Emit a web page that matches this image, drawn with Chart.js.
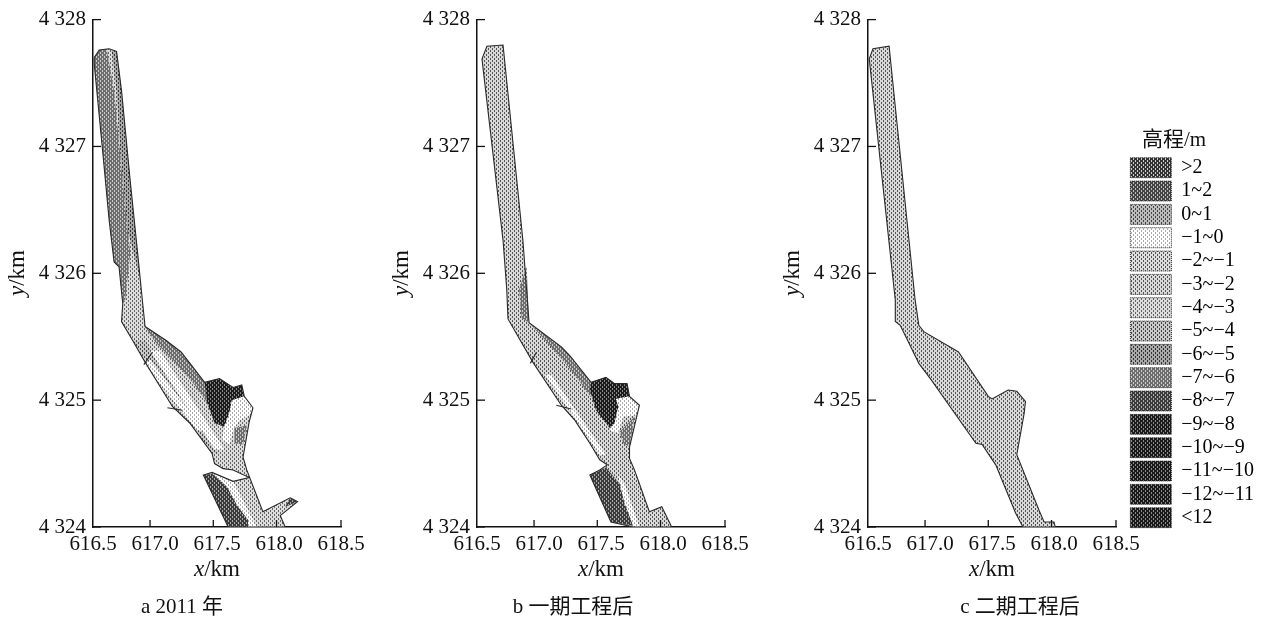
<!DOCTYPE html>
<html>
<head>
<meta charset="utf-8">
<script src="https://cdn.jsdelivr.net/npm/chart.js@4"></script>
<style>
  html, body { margin: 0; background: #fff; overflow: hidden; }
  canvas { position: absolute; top: 0; }
</style>
</head>
<body>
<canvas id="painelA" width="370" height="623" style="left:8px"></canvas>
<canvas id="painelB" width="370" height="623" style="left:392px"></canvas>
<canvas id="painelC" width="370" height="623" style="left:783px"></canvas>
<canvas id="legenda" width="146" height="623" style="left:1127px"></canvas>
<script>
const xTicks = [616.5, 617.0, 617.5, 618.0, 618.5];
const yTicks = [4324, 4325, 4326, 4327, 4328];
// the tick marks in the figure do not sit under their labels
const xTickMarks = [616.96, 617.47, 617.98, 618.5];

const legendLabels = [">2", "1~2", "0~1", "−1~0", "−2~−1", "−3~−2", "−4~−3", "−5~−4", "−6~−5",
  "−7~−6", "−8~−7", "−9~−8", "−10~−9", "−11~−10", "−12~−11", "<12"];
const legendBase = ["#333333", "#444444", "#bbbbbb", "#ffffff", "#dcdcdc", "#d8d8d8", "#dcdcdc", "#c8c8c8",
  "#a8a8a8", "#6e6e6e", "#3c3c3c", "#1c1c1c", "#1a1a1a", "#1a1a1a", "#1a1a1a", "#1a1a1a"];
const legendDot = ["#cccccc", "#bbbbbb", "#444444", "#aaaaaa", "#555555", "#555555", "#666666", "#444444",
  "#333333", "#cccccc", "#aaaaaa", "#888888", "#888888", "#888888", "#888888", "#888888"];

// panel a, elevation zones in km
const aOutline = [[616.51,4327.70],[616.55,4327.76],[616.63,4327.77],[616.69,4327.75],[616.73,4327.44],[616.80,4326.73],
  [616.86,4326.16],[616.90,4325.77],[616.92,4325.58],[617.09,4325.47],[617.21,4325.38],[617.29,4325.28],[617.40,4325.14],
  [617.52,4325.17],[617.63,4325.10],[617.70,4325.12],[617.72,4325.03],[617.79,4324.94],[617.76,4324.83],[617.71,4324.55],
  [617.74,4324.45],[617.87,4324.12],[618.09,4324.23],[618.15,4324.20],[618.01,4324.09],[618.05,4324],[617.59,4324],
  [617.39,4324.41],[617.46,4324.43],[617.63,4324.36],[617.76,4324.39],[617.63,4324.45],[617.55,4324.46],[617.48,4324.50],
  [617.46,4324.58],[617.28,4324.82],[617.14,4324.95],[616.92,4325.30],[616.82,4325.47],[616.73,4325.62],[616.74,4325.76],
  [616.71,4326.05],[616.67,4326.09],[616.63,4326.42],[616.58,4326.94],[616.51,4327.65],[616.51,4327.70]];
const aChannelLeft = [[616.51,4327.70],[616.55,4327.76],[616.61,4327.77],[616.67,4327.44],[616.74,4326.73],[616.80,4326.16],
  [616.76,4325.79],[616.74,4325.76],[616.71,4326.05],[616.67,4326.09],[616.63,4326.42],[616.58,4326.94],[616.51,4327.65]];
const aChannelRight = [[616.65,4327.76],[616.69,4327.75],[616.73,4327.44],[616.80,4326.73],[616.86,4326.16],[616.88,4325.95],
  [616.78,4326.34],[616.72,4326.97],[616.69,4327.44]];
const aBand = [[616.92,4325.58],[617.09,4325.47],[617.21,4325.38],[617.29,4325.28],[617.40,4325.14],[617.42,4324.98],
  [617.32,4325.12],[617.16,4325.30],[617.00,4325.46]];
const aLeftEdge = [[616.82,4325.47],[617.28,4324.82],[617.46,4324.58],[617.52,4324.58],[617.34,4324.84],[616.92,4325.47]];
const aStrip = [[616.96,4325.39],[617.04,4325.39],[617.56,4324.61],[617.48,4324.61]];
const aStripLeft = [[616.92,4325.28],[616.96,4325.32],[617.40,4324.76],[617.34,4324.76]];
const aPool = [[617.40,4325.14],[617.52,4325.17],[617.63,4325.10],[617.70,4325.12],[617.72,4325.03],[617.62,4325.00],
  [617.60,4324.90],[617.56,4324.79],[617.48,4324.82],[617.42,4324.98]];
const aRing = [[617.62,4325.00],[617.72,4325.03],[617.79,4324.94],[617.76,4324.88],[617.68,4324.84],[617.63,4324.76],
  [617.60,4324.65],[617.54,4324.69],[617.56,4324.79],[617.60,4324.90]];
const aSmallPool = [[617.64,4324.78],[617.74,4324.80],[617.71,4324.65],[617.64,4324.66]];
const aLowerDark = [[617.39,4324.41],[617.46,4324.42],[617.58,4324.32],[617.67,4324.16],[617.75,4324.06],[617.75,4324],[617.59,4324]];
const aLowerWhite = [[617.46,4324.43],[617.63,4324.36],[617.82,4324],[617.75,4324],[617.75,4324.06],[617.67,4324.16],[617.58,4324.32]];
const aBranchTip = [[618.05,4324.16],[618.09,4324.23],[618.15,4324.20]];
const aSpurLower = [[617.10,4324.94],[617.22,4324.92]];
const aSpurUpper = [[616.91,4325.28],[616.98,4325.38]];

// panel b
const bOutline = [[616.54,4327.69],[616.58,4327.79],[616.71,4327.80],[616.87,4326.26],[616.92,4325.61],[617.18,4325.42],
  [617.25,4325.35],[617.42,4325.14],[617.54,4325.18],[617.61,4325.13],[617.71,4325.13],[617.73,4325.03],[617.81,4324.96],
  [617.73,4324.63],[617.73,4324.54],[617.77,4324.45],[617.89,4324.12],[617.99,4324.16],[618.07,4324],[617.76,4324],
  [617.58,4324.04],[617.41,4324.41],[617.49,4324.45],[617.55,4324.49],[617.49,4324.53],[617.41,4324.66],[617.29,4324.84],
  [617.18,4324.96],[616.95,4325.30],[616.75,4325.64],[616.74,4325.87],[616.71,4326.26],[616.54,4327.69]];
const bChannelPatch = [[616.90,4326.06],[616.92,4325.61],[616.86,4325.65],[616.84,4325.87]];
const bBand = [[616.92,4325.61],[617.18,4325.42],[617.25,4325.35],[617.42,4325.14],[617.42,4325.02],[617.29,4325.20],[617.09,4325.43]];
const bStrip = [[617.05,4325.20],[617.10,4325.20],[617.54,4324.57],[617.49,4324.57]];
const bPool = [[617.42,4325.14],[617.54,4325.18],[617.61,4325.13],[617.71,4325.13],[617.73,4325.03],[617.62,4325.01],
  [617.64,4324.95],[617.61,4324.82],[617.57,4324.78],[617.46,4324.92],[617.41,4325.08]];
const bRing = [[617.62,4325.01],[617.73,4325.03],[617.81,4324.96],[617.78,4324.88],[617.68,4324.87],[617.64,4324.74],
  [617.57,4324.76],[617.61,4324.82],[617.64,4324.95]];
const bSmallPool = [[617.65,4324.75],[617.77,4324.87],[617.73,4324.63],[617.68,4324.66]];
const bLowerDark = [[617.41,4324.41],[617.54,4324.47],[617.65,4324.34],[617.69,4324.19],[617.76,4324.01],[617.58,4324.04]];
const bLowerWhite = [[617.64,4324.40],[617.69,4324.34],[617.81,4324],[617.76,4324.01],[617.69,4324.19]];
const bSpurLower = [[617.14,4324.96],[617.26,4324.93]];
const bSpurUpper = [[616.93,4325.29],[616.98,4325.38]];

// panel c is one zone only
const cOutline = [[616.51,4327.69],[616.54,4327.77],[616.67,4327.79],[616.88,4325.79],[616.91,4325.59],[616.95,4325.54],
  [617.23,4325.38],[617.47,4325.03],[617.50,4325.01],[617.63,4325.08],[617.70,4325.07],[617.77,4324.99],[617.76,4324.90],
  [617.70,4324.57],[617.88,4324.13],[617.92,4324.04],[618.00,4324.04],[618.01,4324],[617.75,4324],[617.69,4324.11],
  [617.53,4324.49],[617.42,4324.65],[617.37,4324.66],[617.01,4325.16],[616.91,4325.29],[616.76,4325.59],[616.72,4325.62],
  [616.72,4325.79],[616.51,4327.69]];

const serif = '"Liberation Serif", "Noto Sans CJK SC", serif';

function criarPadrao(base, dot) {
  const tile = document.createElement("canvas");
  tile.width = 4;
  tile.height = 4;
  const c = tile.getContext("2d");
  c.fillStyle = base;
  c.fillRect(0, 0, 4, 4);
  c.fillStyle = dot;
  c.fillRect(0, 0, 1, 2);
  c.fillRect(2, 2, 1, 2);
  return c.createPattern(tile, "repeat");
}

const padroes = legendLabels.map((_, i) => criarPadrao(legendBase[i], legendDot[i]));
const classe = label => padroes[legendLabels.indexOf(label)];

function camada(pontos, label, nome) {
  return {
    label: nome,
    data: pontos.map(([x, y]) => ({ x, y })),
    showLine: true,
    fill: "shape",
    backgroundColor: classe(label),
    borderWidth: 0,
    pointRadius: 0,
    tension: 0
  };
}

function contorno(pontos) {
  return {
    label: "contorno",
    data: pontos.map(([x, y]) => ({ x, y })),
    showLine: true,
    fill: false,
    borderColor: "#2a2a2a",
    borderWidth: 1.1,
    pointRadius: 0,
    tension: 0
  };
}

// inward tick marks and the mixed italic titles
const marcas = {
  id: "marcas",
  afterDraw(chart, args, opts) {
    const { ctx, scales, chartArea } = chart;
    ctx.save();
    ctx.strokeStyle = "#111";
    ctx.lineWidth = 1.3;
    xTickMarks.forEach(v => {
      const px = scales.x.getPixelForValue(v);
      ctx.beginPath();
      ctx.moveTo(px, chartArea.bottom);
      ctx.lineTo(px, chartArea.bottom - 7);
      ctx.stroke();
    });
    yTicks.forEach(v => {
      const py = scales.y.getPixelForValue(v);
      ctx.beginPath();
      ctx.moveTo(chartArea.left, py);
      ctx.lineTo(chartArea.left + 8, py);
      ctx.stroke();
    });
    ctx.fillStyle = "#111";
    ctx.textBaseline = "middle";
    titulo(ctx, opts.cx, 570, 0, "x");
    titulo(ctx, chartArea.left - 75, 273, -Math.PI / 2, "y");
    ctx.font = "21px " + serif;
    ctx.textAlign = "center";
    ctx.fillText(opts.legenda, opts.captionX, 607);
    ctx.restore();
  }
};

function titulo(ctx, cx, cy, rot, letra) {
  ctx.save();
  ctx.translate(cx, cy);
  ctx.rotate(rot);
  ctx.textAlign = "left";
  ctx.font = "italic 23px " + serif;
  const w1 = ctx.measureText(letra).width;
  ctx.font = "23px " + serif;
  const w2 = ctx.measureText("/km").width;
  const inicio = -(w1 + w2) / 2;
  ctx.font = "italic 23px " + serif;
  ctx.fillText(letra, inicio, 0);
  ctx.font = "23px " + serif;
  ctx.fillText("/km", inicio + w1, 0);
  ctx.restore();
}

function painel(id, datasets, legendaTexto, captionX) {
  new Chart(document.getElementById(id), {
    type: "scatter",
    data: { datasets: datasets.map((d, i) => ({ ...d, order: datasets.length - i })) },
    plugins: [marcas],
    options: {
      responsive: false,
      animation: false,
      layout: { autoPadding: false, padding: { top: 19, right: 37, bottom: 56, left: 0 } },
      plugins: {
        legend: { display: false },
        tooltip: { enabled: false },
        marcas: { cx: 85 + 124, legenda: legendaTexto, captionX }
      },
      scales: {
        x: {
          type: "linear",
          min: xTicks[0],
          max: xTicks[xTicks.length - 1],
          afterBuildTicks: s => { s.ticks = xTicks.map(value => ({ value })); },
          afterFit: s => { s.height = 40; },
          grid: { drawOnChartArea: false, drawTicks: false },
          border: { color: "#111", width: 1.5 },
          ticks: {
            color: "#111",
            padding: 5,
            maxRotation: 0,
            autoSkip: false,
            font: { family: serif, size: 21 },
            callback: v => v.toFixed(1)
          }
        },
        y: {
          type: "linear",
          min: yTicks[0],
          max: yTicks[yTicks.length - 1],
          afterBuildTicks: s => { s.ticks = yTicks.map(value => ({ value })); },
          afterFit: s => { s.width = 85; },
          grid: { drawOnChartArea: false, drawTicks: false },
          border: { color: "#111", width: 1.5 },
          ticks: {
            color: "#111",
            padding: 7,
            font: { family: serif, size: 21 },
            callback: v => String(v).replace(/^(\d)/, "$1 ")
          }
        }
      }
    }
  });
}

painel("painelA", [
  camada(aOutline, "−4~−3", "base"),
  camada(aChannelLeft, "−7~−6", "canal esquerdo"),
  camada(aChannelRight, "−6~−5", "canal direito"),
  camada(aLeftEdge, "−5~−4", "margem"),
  camada(aBand, "−7~−6", "faixa"),
  camada(aStrip, "−1~0", "faixa clara"),
  camada(aStripLeft, "−1~0", "faixa clara esquerda"),
  camada(aPool, "−9~−8", "poco"),
  camada(aRing, "−1~0", "anel"),
  camada(aSmallPool, "−7~−6", "poco menor"),
  camada(aLowerDark, "−8~−7", "trecho inferior"),
  camada(aLowerWhite, "−1~0", "trecho claro"),
  camada(aBranchTip, "−8~−7", "ponta"),
  contorno(aOutline),
  contorno(aSpurLower),
  contorno(aSpurUpper)
], "a 2011 年", 182 - 8);

painel("painelB", [
  camada(bOutline, "−3~−2", "base"),
  camada(bChannelPatch, "−7~−6", "mancha"),
  camada(bBand, "−7~−6", "faixa"),
  camada(bStrip, "−1~0", "faixa clara"),
  camada(bPool, "−9~−8", "poco"),
  camada(bRing, "−1~0", "anel"),
  camada(bSmallPool, "−7~−6", "poco menor"),
  camada(bLowerDark, "−8~−7", "trecho inferior"),
  camada(bLowerWhite, "−1~0", "trecho claro"),
  contorno(bOutline),
  contorno(bSpurLower),
  contorno(bSpurUpper)
], "b 一期工程后", 573 - 392);

painel("painelC", [
  camada(cOutline, "−3~−2", "base"),
  contorno(cOutline)
], "c 二期工程后", 1020 - 783);

new Chart(document.getElementById("legenda"), {
  type: "scatter",
  data: { datasets: [] },
  plugins: [{
    id: "tituloLegenda",
    afterDraw(chart) {
      const { ctx } = chart;
      ctx.save();
      ctx.fillStyle = "#111";
      ctx.font = "21px " + serif;
      ctx.textBaseline = "middle";
      ctx.fillText("高程/m", 15, 140);
      ctx.restore();
    }
  }],
  options: {
    responsive: false,
    animation: false,
    layout: { autoPadding: false, padding: { top: 154.4 } },
    scales: { x: { display: false }, y: { display: false } },
    plugins: {
      tooltip: { enabled: false },
      legend: {
        position: "left",
        align: "start",
        maxWidth: 146,
        labels: {
          boxWidth: 41,
          boxHeight: 20,
          padding: 3.33,
          color: "#111",
          font: { family: serif, size: 20 },
          generateLabels: () => legendLabels.map((text, i) => ({
            text,
            fillStyle: padroes[i],
            strokeStyle: "#222",
            lineWidth: 1,
            lineDash: [1, 1],
            hidden: false
          }))
        }
      }
    }
  }
});
</script>
</body>
</html>
